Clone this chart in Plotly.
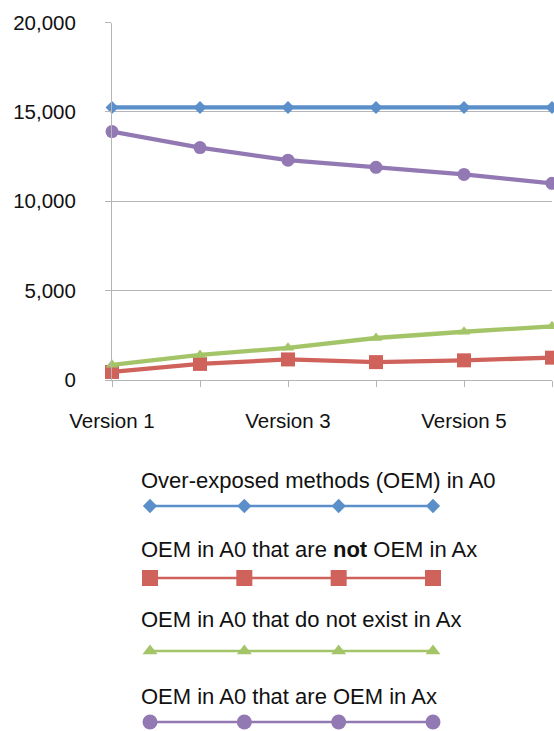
import plotly.graph_objects as go

versions = ["Version 1", "Version 2", "Version 3", "Version 4", "Version 5", "Version 6"]
tick_labels = ["Version 1", "", "Version 3", "", "Version 5", ""]
oem_a0 = [15250, 15250, 15250, 15250, 15250, 15250]
not_oem_ax = [450, 900, 1150, 1000, 1100, 1250]
not_exist_ax = [850, 1400, 1800, 2350, 2700, 3000]
oem_ax = [13900, 13000, 12300, 11900, 11500, 11000]

series_names = [
    "Over-exposed methods (OEM) in A0",
    "OEM in A0 that are <b>not</b> OEM in Ax",
    "OEM in A0 that do not exist in Ax",
    "OEM in A0 that are OEM in Ax",
]
series_values = [oem_a0, not_oem_ax, not_exist_ax, oem_ax]
colors = ["#5b8fca", "#cf625b", "#a4c468", "#9279b3"]
symbols = ["diamond", "square", "triangle-up", "circle"]
main_sizes = [10, 14, 11, 13]
legend_sizes = [11, 16, 13, 15]

W, H = 554, 731
FONT = "Liberation Sans, Arial, Helvetica, sans-serif"
LEG_TOP = 440  # pixel row where the hidden legend axis starts

fig = go.Figure()

for name, vals, c, s, ms in zip(series_names, series_values, colors, symbols, main_sizes):
    fig.add_trace(go.Scatter(
        x=versions, y=vals, mode="lines+markers", name=name,
        line=dict(color=c, width=4.3),
        marker=dict(symbol=s, size=ms, color=c),
        cliponaxis=False, showlegend=False,
    ))

# custom legend below the chart (decoration on a hidden pixel-space axis)
legend_slots = [0, 1, 2, 3]
legend_rows_y = [506, 578, 651, 722]
legend_text_y = [480, 549, 619, 696]
for name, c, s, ms, ry, ty in zip(series_names, colors, symbols, legend_sizes, legend_rows_y, legend_text_y):
    fig.add_trace(go.Scatter(
        x=legend_slots, y=[ry] * len(legend_slots), mode="lines+markers",
        xaxis="x2", yaxis="y2",
        line=dict(color=c, width=2.3),
        marker=dict(symbol=s, size=ms, color=c),
        cliponaxis=False, showlegend=False, hoverinfo="skip",
    ))
    fig.add_annotation(
        text=name, xref="paper", yref="paper",
        x=139 / W, y=1 - ty / H, xanchor="left", yanchor="middle",
        showarrow=False, font=dict(family=FONT, size=22, color="#111111"),
    )

fig.update_layout(
    width=W, height=H,
    margin=dict(l=0, r=0, t=0, b=0, autoexpand=False),
    paper_bgcolor="white", plot_bgcolor="rgba(0,0,0,0)",
    font=dict(family=FONT, size=20, color="#111111"),
    xaxis=dict(
        domain=[112 / W, 552 / W],
        type="category", range=[0, 5],
        tickmode="array", tickvals=versions, ticktext=tick_labels,
        showgrid=False,
        showline=True, linecolor="#b5b5b5", linewidth=1,
        ticks="outside", ticklen=6, tickcolor="#b5b5b5",
        tickfont=dict(family=FONT, size=20.5, color="#111111"),
        ticklabelstandoff=16,
        zeroline=False, automargin=False,
    ),
    yaxis=dict(
        domain=[1 - 380 / H, 1 - 22.5 / H],
        range=[0, 20000],
        tickvals=[0, 5000, 10000, 15000, 20000],
        tickformat=",d",
        showgrid=True, gridcolor="#b5b5b5", gridwidth=1,
        showline=True, linecolor="#b5b5b5", linewidth=1,
        zeroline=False,
        ticks="outside", ticklen=6, tickcolor="#b5b5b5",
        tickfont=dict(family=FONT, size=20.5, color="#111111"),
        ticklabelstandoff=25, automargin=False,
    ),
    xaxis2=dict(domain=[150 / W, 433 / W], range=[0, 3], visible=False, automargin=False),
    yaxis2=dict(domain=[0, 1 - LEG_TOP / H], range=[H, LEG_TOP], visible=False,
                anchor="x2", automargin=False),
)

fig.write_html("out.html", config={"displayModeBar": False},
               post_script="document.body.style.margin='0';")
